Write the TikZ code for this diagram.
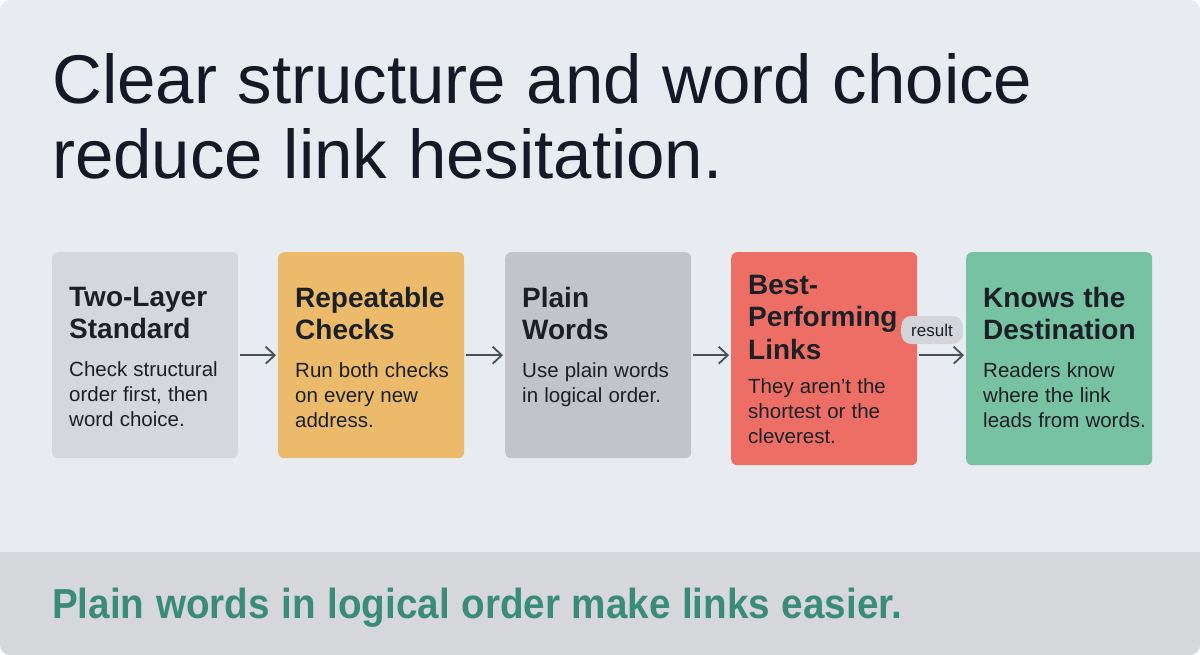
\documentclass[tikz,border=0pt]{standalone}
\usepackage{fontspec}
\setmainfont[WordSpace=1.08]{Liberation Sans}
\usetikzlibrary{arrows.meta}

\definecolor{pagebg}{HTML}{E8EBEF}
\definecolor{bandbg}{HTML}{D5D7DB}
\definecolor{titleink}{HTML}{141925}
\definecolor{cardink}{HTML}{1C1F25}
\definecolor{arrowink}{HTML}{4A4F5A}
\definecolor{takeaway}{HTML}{3A8C78}
\definecolor{cardgray}{HTML}{D4D7DC}
\definecolor{cardamber}{HTML}{EBBB6B}
\definecolor{cardslate}{HTML}{C2C4C9}
\definecolor{cardcoral}{HTML}{EC6E64}
\definecolor{cardmint}{HTML}{77C2A3}
\definecolor{pillbg}{HTML}{D3D5D9}

% card contents: height, top padding, text
\newcommand{\cardtext}[3]{\parbox[t][#1][t]{186pt}{\raggedright\leftskip=17pt\relax\vspace*{#2}#3}}
\newcommand{\cardhead}[2][13pt]{{\fontsize{28}{32.5}\selectfont\bfseries #2\par}\vspace{#1}}
\newcommand{\cardbody}[1]{{\fontsize{20.5}{25}\selectfont #1\par}}

\begin{document}
\begin{tikzpicture}[
        x=1pt, y=-1pt,
        card/.style={
            anchor=north west,
            rounded corners=6pt,
            inner sep=0pt,
            text=cardink
        },
        flow/.style={
            -{Straight Barb[length=9pt,width=17pt]},
            line width=1.8pt,
            draw=arrowink,
            shorten <=2pt,
            shorten >=2pt
        },
        result pill/.style={
            fill=pillbg,
            rounded corners=10pt,
            minimum height=28pt,
            inner xsep=10pt,
            text=cardink,
            font=\fontsize{17}{20}\selectfont
        }
    ]
        \useasboundingbox (0,0) rectangle (1200,655);
        \fill[white] (0,0) rectangle (1200,655);
        \begin{scope}
            \clip[rounded corners=10pt] (0,0) rectangle (1200,655);
            \fill[pagebg] (0,0) rectangle (1200,655);
            \fill[bandbg] (0,552) rectangle (1200,655);
        \end{scope}

        \node[anchor=north west, inner sep=0pt, align=left, text=titleink,
            font=\fontsize{69}{75}\selectfont] (headline) at (52,53)
            {Clear structure and word choice\\reduce link hesitation.};

        \node[card, fill=cardgray] (twolayer) at (52,252)
            {\cardtext{206pt}{35pt}{\cardhead{Two-Layer\\Standard}\cardbody{Check structural\\order first, then\\word choice.}}};
        \node[card, fill=cardamber] (checks) at (278,252)
            {\cardtext{206pt}{35pt}{\cardhead{Repeatable\\Checks}\cardbody{Run both checks\\on every new\\address.}}};
        \node[card, fill=cardslate] (plainwords) at (505,252)
            {\cardtext{206pt}{35pt}{\cardhead{Plain\\Words}\cardbody{Use plain words\\in logical order.}}};
        \node[card, fill=cardcoral] (bestlinks) at (731,252)
            {\cardtext{213pt}{23pt}{\cardhead[9pt]{Best-\\Performing\\Links}\cardbody{They aren't the\\shortest or the\\cleverest.}}};
        \node[card, fill=cardmint] (destination) at (966,252)
            {\cardtext{213pt}{35pt}{\cardhead{Knows the\\Destination}\cardbody{Readers know\\where the link\\leads from words.}}};

        \draw[flow] (twolayer.east) -- (checks.west);
        \draw[flow] (checks.east) -- (plainwords.west);
        \draw[flow] (plainwords.east) -- (plainwords.east -| bestlinks.west);
        \draw[flow] (bestlinks.east |- plainwords.east) -- (plainwords.east -| destination.west);
        \node[result pill] (resulttag) at (932,330) {result};

        \node[anchor=base west, inner sep=0pt, text=takeaway,
            font=\fontsize{42}{48}\selectfont\bfseries] (summary) at (52,618)
            {\scalebox{0.92}[1]{Plain words in logical order make links easier.}};
    \end{tikzpicture}
\end{document}
